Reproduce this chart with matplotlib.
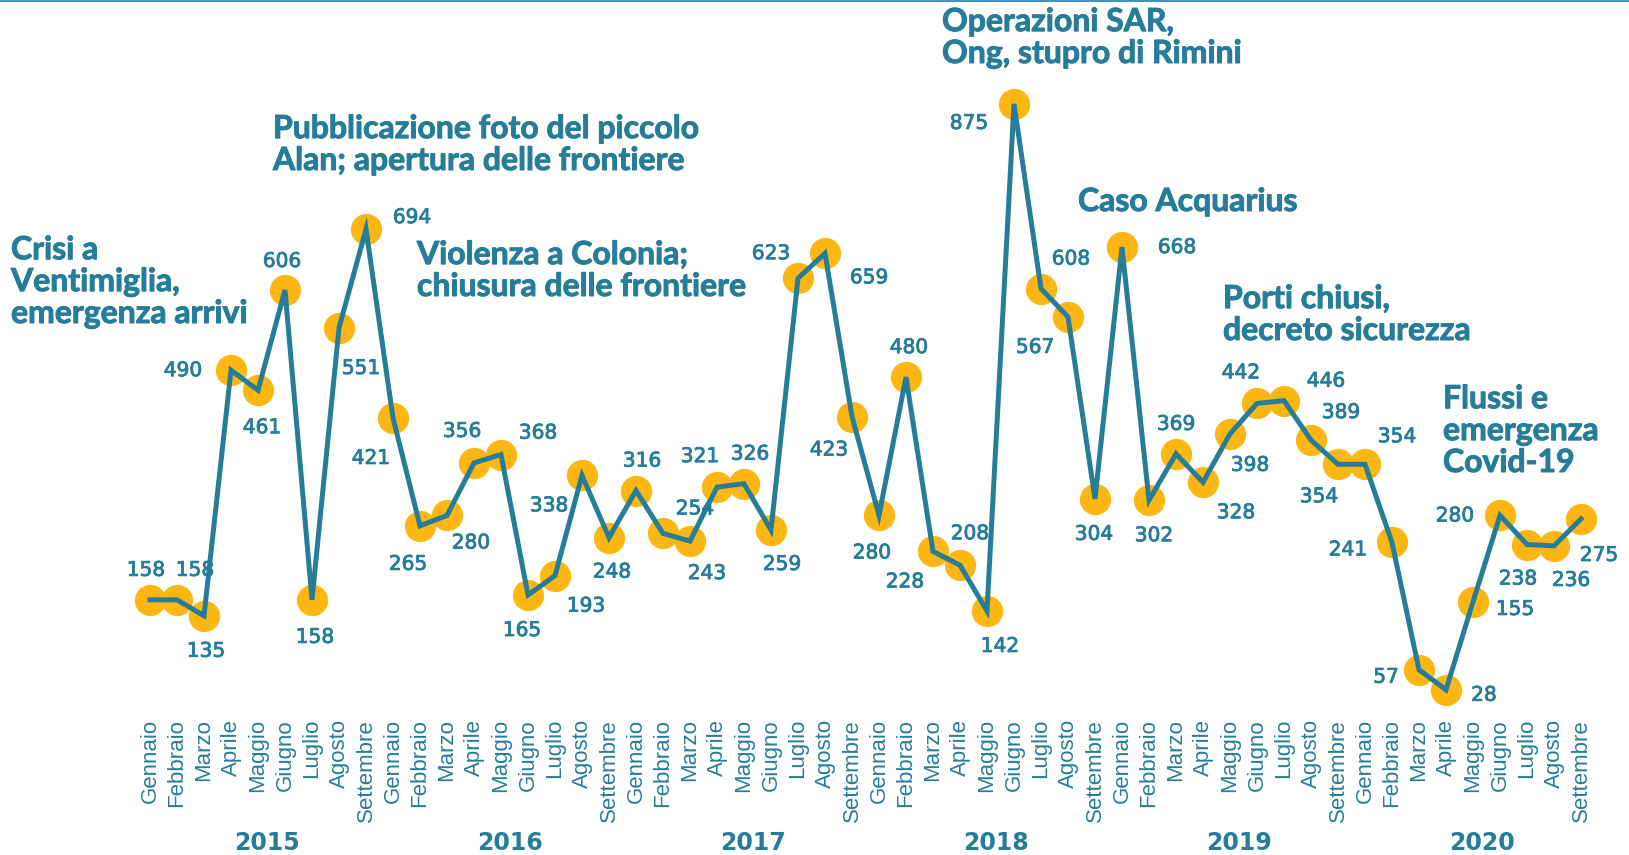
import matplotlib
matplotlib.use('Agg')
import matplotlib.pyplot as plt
from matplotlib.lines import Line2D
from matplotlib.transforms import blended_transform_factory
import matplotlib.patheffects as pe

# ---------------- data ----------------
years = ['2015', '2016', '2017', '2018', '2019', '2020']
months = ['Gennaio', 'Febbraio', 'Marzo', 'Aprile', 'Maggio', 'Giugno',
          'Luglio', 'Agosto', 'Settembre']
arrivals_2015 = [158, 158, 135, 490, 461, 606, 158, 551, 694]
arrivals_2016 = [421, 265, 280, 356, 368, 165, 193, 338, 248]
arrivals_2017 = [316, 254, 243, 321, 326, 259, 623, 659, 423]
arrivals_2018 = [280, 480, 228, 208, 142, 875, 608, 567, 304]
arrivals_2019 = [668, 302, 369, 328, 398, 442, 446, 389, 354]
arrivals_2020 = [354, 241, 57, 28, 155, 280, 238, 236, 275]
arrivals = (arrivals_2015 + arrivals_2016 + arrivals_2017 +
            arrivals_2018 + arrivals_2019 + arrivals_2020)
month_labels = months * len(years)

events = ['Crisi a\nVentimiglia,\nemergenza arrivi',
          'Pubblicazione foto del piccolo\nAlan; apertura delle frontiere',
          'Violenza a Colonia;\nchiusura delle frontiere',
          'Operazioni SAR,\nOng, stupro di Rimini',
          'Caso Acquarius',
          'Porti chiusi,\ndecreto sicurezza',
          'Flussi e\nemergenza\nCovid-19']

# ---------------- layout / style ----------------
W, H = 1629, 855
TEAL = '#267d99'
YELLOW = '#fdb612'
TOPLINE = '#1f7ab3'

# value-label offsets (pixels: right, down) relative to each point
label_offsets = [(-4, -31), (18, -31), (2, 34), (-48, -1), (4, 36), (-3, -30),
                 (3, 36), (22, 39), (46, -13),
                 (-22, 39), (-12, 37), (24, 26), (-12, -33), (37, -23), (-6, 34),
                 (31, 29), (-33, 29), (3, 33),
                 (6, -31), (32, -26), (17, 31), (-17, -32), (6, -31), (11, 33),
                 (-27, -26), (44, 23), (-23, 32),
                 (-7, 36), (3, -31), (-28, 29), (10, -33), (13, 34), (-45, 18),
                 (30, -31), (-33, 29), (-1, 34),
                 (55, -1), (5, 34), (0, -31), (33, 29), (20, 30), (-16, -32),
                 (42, -21), (30, -29), (-19, 31),
                 (32, -29), (-44, 6), (-33, 6), (38, 4), (42, 6), (-45, -1),
                 (-9, 33), (17, 33), (18, 35)]

# event annotation anchors (pixels: left x, last-line baseline y)
event_pos = [(11, 323), (273, 170), (417, 296), (942, 63), (1078, 211),
             (1223, 340), (1443, 472)]

fig = plt.figure(figsize=(W / 100, H / 100), dpi=100)
ax = fig.add_axes([0, 0, 1, 1])
ax.set_axis_off()

x0_px, step_px = 150.0, 27.0
y875_px, px_per_unit = 103.9, 0.6917
ax.set_xlim(-x0_px / step_px, (W - x0_px) / step_px)
ax.set_ylim(875 - (H - y875_px) / px_per_unit, 875 + y875_px / px_per_unit)

xs = list(range(len(arrivals)))
ax.plot(xs, arrivals, linestyle='none', marker='o', markersize=22.5,
        markerfacecolor=YELLOW, markeredgecolor='none', zorder=2)
ax.plot(xs, arrivals, color=TEAL, linewidth=3.6, solid_joinstyle='miter',
        zorder=3)

for i, (v, (dx, dy)) in enumerate(zip(arrivals, label_offsets)):
    ax.annotate(str(v), xy=(i, v), xytext=(dx, -(dy + 7)),
                textcoords='offset pixels', ha='center', va='baseline',
                fontsize=14.5, family='DejaVu Sans', color=TEAL, zorder=4,
                path_effects=[pe.withStroke(linewidth=0.6, foreground=TEAL)])

bt = blended_transform_factory(ax.transData, ax.transAxes)
for i, m in enumerate(month_labels):
    ax.text(i, 1 - 719 / H, m, rotation=90, ha='center', va='top',
            transform=bt, fontsize=16, family='Liberation Sans', color=TEAL)

for k, yr in enumerate(years):
    ax.text(k * len(months) + 4.35, 1 - 850 / H, yr, ha='center',
            va='baseline', transform=bt, fontsize=17, family='DejaVu Sans',
            fontweight='bold', color=TEAL)

for txt, (px, py) in zip(events, event_pos):
    ax.text(px / W, 1 - py / H, txt, ha='left', va='baseline',
            transform=ax.transAxes, fontsize=23, family='Lato',
            fontweight='bold', color=TEAL, linespacing=1.12,
            path_effects=[pe.withStroke(linewidth=0.7, foreground=TEAL)])

fig.add_artist(Line2D([0, 1], [1 - 1 / H, 1 - 1 / H], transform=fig.transFigure,
                      color=TOPLINE, linewidth=1.2))

fig.savefig('out.png', dpi=100, facecolor='white')
